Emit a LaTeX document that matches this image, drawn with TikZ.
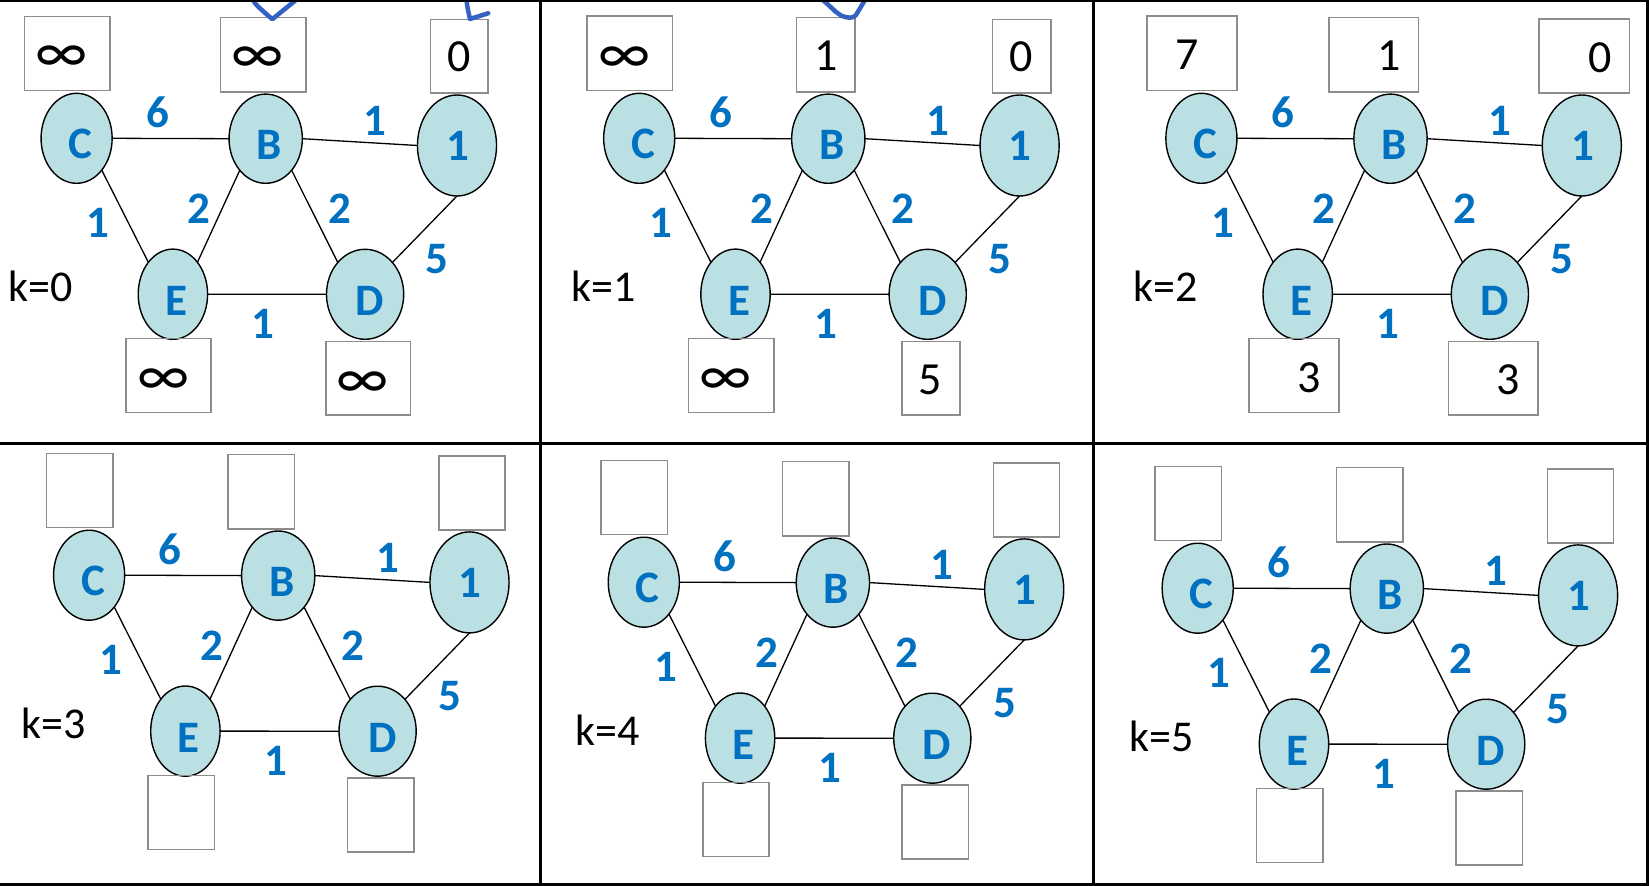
\documentclass[tikz,border=0pt]{standalone}
\usepackage{fontspec}
\setmainfont{Carlito}
\usetikzlibrary{shapes.geometric}

\definecolor{nodefill}{RGB}{187,224,227}
\definecolor{weightblue}{RGB}{0,112,192}
\definecolor{boxgray}{RGB}{140,140,140}
\definecolor{penblue}{RGB}{52,98,196}

\tikzset{
  vertex/.style={ellipse, draw=black, line width=1.4pt, fill=nodefill,
    inner sep=0pt, outer sep=0pt},
  vlabel/.style={text=weightblue, font=\fontsize{45}{50}\selectfont\bfseries, inner sep=0pt},
  weight/.style={text=weightblue, font=\fontsize{45}{50}\selectfont\bfseries, inner sep=0pt},
  edge/.style={draw=black, line width=1.3pt},
  valbox/.style={draw=boxgray, line width=1.5pt},
  val/.style={font=\fontsize{46}{50}\selectfont, inner sep=0pt},
  infval/.style={font=\fontsize{61}{66}\selectfont, inner sep=0pt, yshift=-5pt},
  klabel/.style={font=\fontsize{44}{50}\selectfont, inner sep=0pt},
  frame/.style={draw=black, line width=2.5pt},
  pen/.style={draw=penblue, line width=4.5pt, line cap=round, line join=round},
}

% One copy of the weighted graph; #1 = name suffix, #2 = shift, #3 = k
\newcommand\graphpanel[3]{%
  \begin{scope}[shift={#2}]
    \node[vertex, minimum width=71.1pt, minimum height=90pt] (C#1) at (76.6,138.3) {};
    \node[vertex, minimum width=73.3pt, minimum height=89.2pt] (B#1) at (265.7,138.7) {};
    \node[vertex, minimum width=79.1pt, minimum height=101pt] (N#1) at (457,145.5) {};
    \node[vertex, minimum width=69.4pt, minimum height=90.2pt] (E#1) at (172.9,294.2) {};
    \node[vertex, minimum width=77.2pt, minimum height=90pt] (D#1) at (365.1,294.3) {};
    \node[vlabel] (tC#1) at (80.7,144.2) {C};
    \node[vlabel] (tB#1) at (269.2,145) {B};
    \node[vlabel] (tN#1) at (457.7,146.2) {1};
    \node[vlabel] (tE#1) at (176.4,300.7) {E};
    \node[vlabel] (tD#1) at (369.7,301.2) {D};
    \draw[edge] (C#1.east) -- (B#1.west);
    \draw[edge] (B#1.east) -- (N#1.west);
    \draw[edge] (E#1.east) -- (D#1.west);
    \draw[edge] (C#1.south east) -- (E#1.north west);
    \draw[edge] (B#1.south west) -- (E#1.north east);
    \draw[edge] (B#1.south east) -- (D#1.north west);
    \draw[edge] (N#1.south) -- (D#1.north east);
    \node[weight] (wCB#1) at (157.8,112) {6};
    \node[weight] (wBN#1) at (375,121.3) {1};
    \node[weight] (wCE#1) at (98.2,222.5) {1};
    \node[weight] (wBE#1) at (199.3,208.5) {2};
    \node[weight] (wBD#1) at (339.9,208.5) {2};
    \node[weight] (wND#1) at (437.2,258.8) {5};
    \node[weight] (wED#1) at (263,323.5) {1};
    \node[klabel] (k#1) at (40.7,286.7) {k=#3};
  \end{scope}}

% Empty value boxes of the lower row; #1 = shift
\newcommand\emptyboxes[1]{%
  \begin{scope}[shift={#1}]
    \draw[valbox] (34,16.5) rectangle (100.5,90.5);
    \draw[valbox] (215.5,17.8) rectangle (281.8,92);
    \draw[valbox] (426.4,19.1) rectangle (492.5,93.1);
    \draw[valbox] (135.6,338.8) rectangle (202,412.8);
    \draw[valbox] (335,341.2) rectangle (401.4,415.2);
  \end{scope}}

\begin{document}
\begin{tikzpicture}[x=1pt, y=-1pt]
  \useasboundingbox (0,0) rectangle (1649,886);
  \fill[white] (0,0) rectangle (1649,886);

  % panels
  \graphpanel{a}{(0,0)}{0}
  \graphpanel{b}{(562.6,0)}{1}
  \graphpanel{c}{(1124.8,0)}{2}
  \graphpanel{d}{(12.5,436.9)}{3}
  \graphpanel{e}{(567.2,443.9)}{4}
  \graphpanel{f}{(1121.1,449.9)}{5}

  % k = 0
  \draw[valbox] (24.6,16.7) rectangle (109.8,90.3);
  \draw[valbox] (220.3,17.7) rectangle (305.9,92);
  \draw[valbox] (430.4,19.3) rectangle (488.2,93);
  \draw[valbox] (125.9,338.7) rectangle (211.2,412.7);
  \draw[valbox] (325.9,341.3) rectangle (410.7,415);
  \node[infval] (vCa) at (61.4,54.5) {∞};
  \node[infval] (vBa) at (257.8,55) {∞};
  \node[val] (vNa) at (458.8,57) {0};
  \node[infval] (vEa) at (163.6,377.2) {∞};
  \node[infval] (vDa) at (362.7,380.2) {∞};

  % k = 1
  \begin{scope}[shift={(562.6,0)}]
    \draw[valbox] (24.5,16) rectangle (109.8,90.3);
    \draw[valbox] (234,17.7) rectangle (292.4,92);
    \draw[valbox] (430.1,19.3) rectangle (488.6,93);
    \draw[valbox] (126.1,338.7) rectangle (211.4,412.7);
    \draw[valbox] (339.2,341.3) rectangle (397.2,415);
    \node[infval] (vCb) at (61.6,55) {∞};
    \node[val] (vBb) at (263.3,55.8) {1};
    \node[val] (vNb) at (458.8,57) {0};
    \node[infval] (vEb) at (163.2,377) {∞};
    \node[val] (vDb) at (367.6,380) {5};
  \end{scope}

  % k = 2
  \begin{scope}[shift={(1124.8,0)}]
    \draw[valbox] (22.2,16) rectangle (112.4,90.3);
    \draw[valbox] (204.1,17.7) rectangle (293.9,92);
    \draw[valbox] (414.4,19) rectangle (504.6,93);
    \draw[valbox] (124.2,338.7) rectangle (214,412.7);
    \draw[valbox] (323.5,341.3) rectangle (413.3,415);
    \node[val] (vCc) at (61.9,54.5) {7};
    \node[val] (vBc) at (264.7,55.8) {1};
    \node[val] (vNc) at (475,57.3) {0};
    \node[val] (vEc) at (184.1,377.5) {3};
    \node[val] (vDc) at (383.8,379.5) {3};
  \end{scope}

  % k = 3, 4, 5
  \emptyboxes{(12.5,436.9)}
  \emptyboxes{(567.2,443.9)}
  \emptyboxes{(1121.1,449.9)}

  % hand-drawn pen marks
  \draw[pen] (253,0) .. controls (256,5) .. (272.3,19.2) -- (296,0);
  \draw[pen] (466.5,0) .. controls (467.5,8) .. (470,19) -- (488.2,13.3);
  \draw[pen] (823,0) -- (836,12) -- (841,15.5) .. controls (848,18.5) and (853,18.5) .. (856,15) -- (865,0);

  % frame
  \draw[frame] (0,1.2) -- (1649,1.2);
  \draw[frame] (0,443.3) -- (1649,443.3);
  \draw[frame] (0,884.7) -- (1649,884.7);
  \draw[frame] (540.7,0) -- (540.7,886);
  \draw[frame] (1093.3,0) -- (1093.3,886);
  \draw[frame] (1647.6,0) -- (1647.6,886);
\end{tikzpicture}
\end{document}
